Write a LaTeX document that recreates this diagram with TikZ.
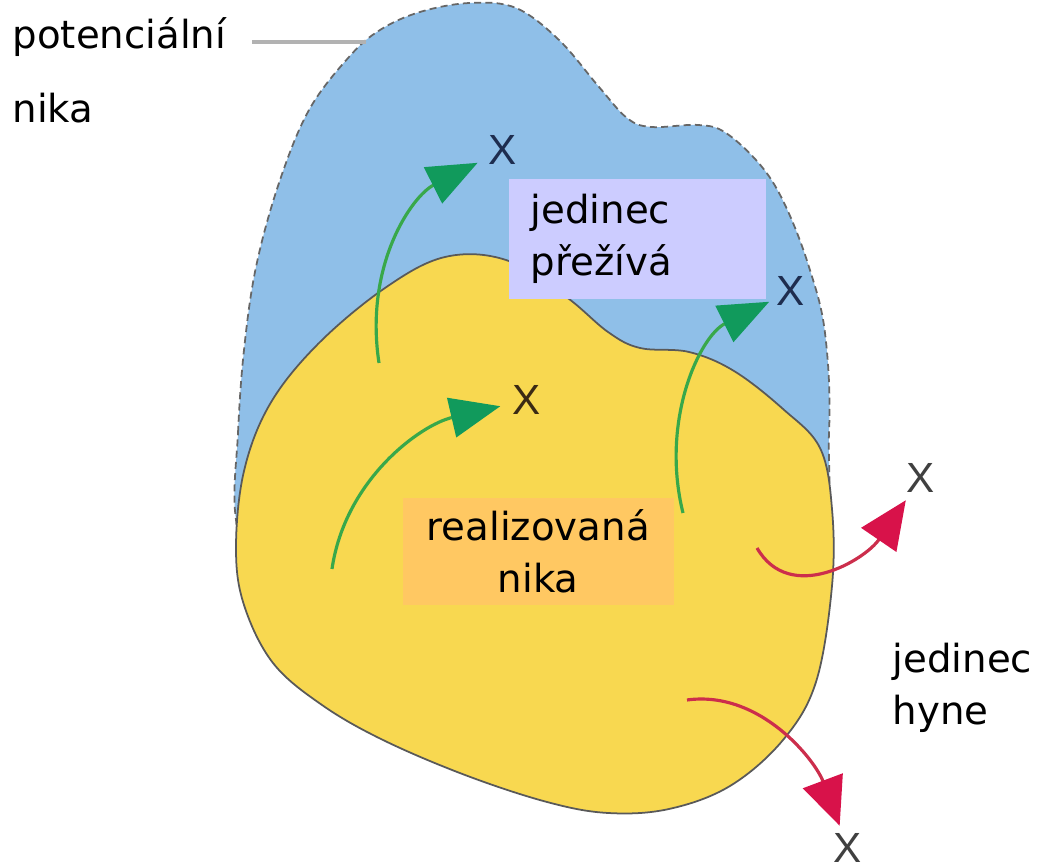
\documentclass[tikz,border=0pt]{standalone}
\usepackage{fontspec}
\setmainfont{DejaVu Sans}
\newfontfamily\xfont{Liberation Sans}
\usetikzlibrary{arrows.meta}

\definecolor{potblue}{HTML}{8FBFE8}
\definecolor{realyel}{HTML}{F8D850}
\definecolor{survfill}{HTML}{CCCCFF}
\definecolor{realfill}{HTML}{FFC862}
\definecolor{grline}{HTML}{38A84A}
\definecolor{grhead}{HTML}{119A5C}
\definecolor{rdline}{HTML}{CC2E4C}
\definecolor{rdhead}{HTML}{D8124A}
\definecolor{navyx}{HTML}{1E2D4F}
\definecolor{brownx}{HTML}{3B2A14}

\begin{document}
\begin{tikzpicture}[
  x=0.01cm, y=-0.01cm,
  font=\fontsize{11}{14.8}\selectfont,
  potniche/.style={fill=potblue, draw=black!60, line width=0.5pt,
                   dash pattern=on 2pt off 1.2pt},
  realniche/.style={fill=realyel, draw=black!65, line width=0.5pt},
  xmark/.style={font=\xfont\fontsize{12}{12}\selectfont, inner sep=2pt},
  grarr/.style={draw=grline, line width=0.9pt,
                -{Triangle[quick, length=5mm, width=4mm, color=grhead]}},
  rdarr/.style={draw=rdline, line width=0.9pt,
                -{Triangle[quick, length=4.8mm, width=4.2mm, color=rdhead]}},
  survbox/.style={fill=survfill, text width=2.13cm, inner xsep=0.22cm,
                  minimum height=1.2cm, align=left},
  realbox/.style={fill=realfill, minimum width=2.71cm, minimum height=1.05cm,
                  align=center},
  leader/.style={draw=black!30, line width=1.2pt},
]
\useasboundingbox (0,0) rectangle (1039,868);
\fill[white] (0,0) rectangle (1039,868);

% potential niche (blue), lower part hidden under the realised niche
\path[potniche] plot[smooth cycle, tension=0.6] coordinates {
  (236,520) (238,433) (244,350) (256,267) (279,183) (309,110) (349,57)
  (380,30) (420,12) (470,3) (516,8) (559,40) (599,87) (627,118) (651,127)
  (698,125) (726,133) (762,167) (786,207) (809,267) (825,333) (829,433)
  (815,560) (700,660) (450,660) (262,600)};

% realised niche (yellow)
\path[realniche] plot[smooth cycle, tension=0.6] coordinates {
  (445,257) (506,260) (565,296) (608,332) (640,348) (689,352)
  (734,371) (783,409) (820,448) (832,509) (832,586) (816,682) (783,740)
  (730,786) (669,809) (608,813) (547,802) (465,775) (383,740) (322,705)
  (273,663) (244,605) (236,548) (244,471) (270,404) (318,344) (385,288)};

% end points
\node[xmark, text=navyx]  (x1) at (503,150) {X};
\node[xmark, text=brownx] (x2) at (527,400) {X};
\node[xmark, text=navyx]  (x3) at (791,291) {X};
\node[xmark, text=black!75] (x4) at (921,478) {X};
\node[xmark, text=black!75] (x5) at (848,848) {X};

\coordinate (s1) at (379,363);
\coordinate (s2) at (332,569);
\coordinate (s3) at (683,513);
\coordinate (s4) at (757,548);
\coordinate (s5) at (687,700);

\draw[grarr, shorten >=0.4mm] (s1) .. controls (364,265) and (412,196) .. (x1);
\draw[grarr, shorten >=0.5mm] (s2) .. controls (345,480) and (420,425) .. (x2);
\draw[grarr] (s3) .. controls (660,420) and (700,336) .. (x3);
\draw[rdarr] (s4) .. controls (790,605) and (865,560) .. (x4);
\draw[rdarr] (s5) .. controls (760,690) and (815,760) .. (x5);

% labels
\node[survbox, anchor=north west] (surv) at (508,178) {jedinec\\přežívá};
\node[realbox, anchor=north west] (real) at (402,497) {realizovaná\\nika};

\node[anchor=north west, inner sep=0pt, align=left,
      font=\fontsize{11}{21}\selectfont] (potlbl) at (12,17) {potenciální\\nika};
\node[anchor=north west, inner sep=0pt, align=left] (dielbl) at (892,642)
  {jedinec\\hyne};

\coordinate (lstart) at (252,42);
\coordinate (lend) at (366,42);
\draw[leader] (lstart) -- (lend);
\end{tikzpicture}
\end{document}
